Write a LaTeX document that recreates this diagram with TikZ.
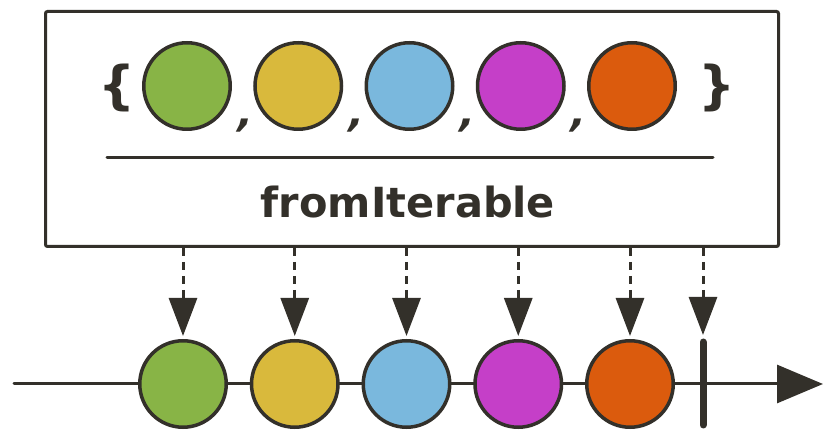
\documentclass[tikz,border=0pt]{standalone}
\usepackage{fontspec}
\setmainfont{DejaVu Sans}
\usetikzlibrary{arrows.meta}
\definecolor{ink}{HTML}{33302A}
\definecolor{cgreen}{HTML}{88B446}
\definecolor{cyellow}{HTML}{D9B93C}
\definecolor{cblue}{HTML}{7AB8DD}
\definecolor{cmagenta}{HTML}{C53FC8}
\definecolor{corange}{HTML}{DB5B0D}
\tikzset{
  marble/.style={circle, draw=ink, line width=3.5pt, minimum size=86.5pt, inner sep=0pt, fill=#1},
  emitarrow/.style={draw=ink, line width=3pt, dash pattern=on 8pt off 6pt,
    -{Triangle[length=38pt,width=28pt]}},
  glyph/.style={text=ink, font=\bfseries\fontsize{52}{52}\selectfont, inner sep=0pt},
  sep/.style={text=ink, font=\bfseries\fontsize{40}{40}\selectfont, inner sep=0pt, xslant=0.25},
}
\begin{document}
\begin{tikzpicture}[x=1pt, y=-1pt]
  \useasboundingbox (0,0) rectangle (823,430);
  % operator box
  \node[draw=ink, line width=3pt, rounded corners=2pt, minimum width=733pt, minimum height=235pt,
        inner sep=0pt, anchor=north west] (box) at (44,10) {};
  \draw[ink, line width=3pt, line cap=round] (107,158) coordinate (rs) -- (713,158) coordinate (re);
  \node[text=ink, font=\bfseries\fontsize{41.5}{41.5}\selectfont, anchor=base] (name) at (408,218) {fromIterable};
  % the iterable
  \node[glyph] (lb) at (117,87.5) {\{};
  \node[glyph] (rb) at (717,87.5) {\}};
  \foreach \c [count=\i from 0] in {cgreen,cyellow,cblue,cmagenta,corange}
    \node[marble=\c] (t\i) at (187+111.25*\i,86) {};
  \foreach \i in {0,...,3}
    \node[sep] (cm\i) at (243+111.25*\i,126) {,};
  % timeline
  \coordinate (tl0) at (14,384);
  \coordinate (tl1) at (823,384);
  \draw[ink, line width=3pt, line cap=round, -{Triangle[length=46pt,width=38pt]}] (tl0) -- (tl1);
  \foreach \c [count=\i from 0] in {cgreen,cyellow,cblue,cmagenta,corange}
    \node[marble=\c] (b\i) at (183+111.75*\i,384) {};
  % completion
  \coordinate (ct) at (703,342);
  \coordinate (cb) at (703,425);
  \draw[ink, line width=7pt, line cap=round] (ct) -- (cb);
  % emissions
  \foreach \i in {0,...,4}
    \draw[emitarrow, shorten >=3pt] (box.south -| b\i) -- (b\i.north);
  \draw[emitarrow] (box.south -| ct) -- ([yshift=7pt]ct);
\end{tikzpicture}
\end{document}
